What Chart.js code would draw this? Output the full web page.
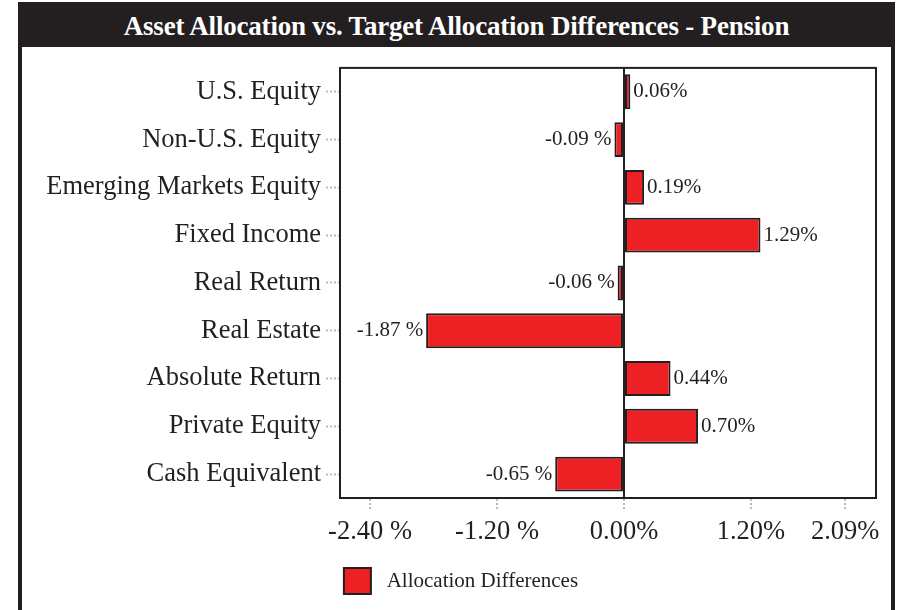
<!DOCTYPE html>
<html>
<head>
<meta charset="utf-8">
<script src="https://cdn.jsdelivr.net/npm/chart.js@4"></script>
<style>
  html, body { margin: 0; padding: 0; background: #fff; }
  #frame {
    position: absolute; left: 18px; top: 2px; width: 869px; height: 608px;
    border-left: 4px solid #231f20; border-right: 4px solid #231f20;
  }
  #title {
    height: 45px; line-height: 49px; background: #231f20; color: #fff;
    font-family: "Liberation Serif", serif; font-weight: bold; font-size: 27px;
    text-align: center; margin: 0 -4px; letter-spacing: -0.2px;
  }
  #wrap { width: 869px; height: 563px; position: relative; }
</style>
</head>
<body>
<div id="frame">
  <div id="title">Asset Allocation vs. Target Allocation Differences - Pension</div>
  <div id="wrap"><canvas id="myChart"></canvas></div>
</div>
<script>
const categories = ['U.S. Equity', 'Non-U.S. Equity', 'Emerging Markets Equity', 'Fixed Income',
  'Real Return', 'Real Estate', 'Absolute Return', 'Private Equity', 'Cash Equivalent'];
const differences = [0.06, -0.09, 0.19, 1.29, -0.06, -1.87, 0.44, 0.70, -0.65];
const tickValues = [-2.40, -1.20, 0.00, 1.20, 2.09];
const seriesName = 'Allocation Differences';

const dark = '#231f20';
const red = '#ed2024';
const serif = '"Liberation Serif", "Times New Roman", serif';

const fmt = v => v < 0 ? v.toFixed(2) + ' %' : v.toFixed(2) + '%';

// outline box round the plot + value labels next to each bar
const plotExtras = {
    id: 'plotExtras',
    afterDatasetsDraw(chart) {
        const { ctx, chartArea } = chart;
        ctx.save();
        ctx.strokeStyle = dark;
        ctx.lineWidth = 2;
        ctx.strokeRect(chartArea.left, chartArea.top, chartArea.right - chartArea.left, chartArea.bottom - chartArea.top);

        ctx.font = '21px ' + serif;
        ctx.fillStyle = dark;
        ctx.textBaseline = 'middle';
        chart.getDatasetMeta(0).data.forEach((bar, i) => {
            const v = differences[i];
            if (v < 0) {
                ctx.textAlign = 'right';
                ctx.fillText(fmt(v), bar.x - 3, bar.y);
            } else {
                ctx.textAlign = 'left';
                ctx.fillText(fmt(v), bar.x + 3, bar.y);
            }
        });
        ctx.restore();
    }
};

new Chart(document.getElementById('myChart'), {
    type: 'bar',
    data: {
        labels: categories,
        datasets: [{
            label: seriesName,
            data: differences,
            backgroundColor: red,
            borderColor: dark,
            borderWidth: 2,
            borderSkipped: false,
            barPercentage: 0.73,
            categoryPercentage: 1
        }]
    },
    options: {
        animation: false,
        responsive: true,
        maintainAspectRatio: false,
        indexAxis: 'y',
        layout: { padding: { top: 20, right: 15, left: 24, bottom: 6 } },
        plugins: {
            title: { display: false },
            tooltip: { enabled: false },
            legend: {
                position: 'bottom',
                labels: {
                    boxWidth: 27,
                    boxHeight: 26,
                    padding: 10,
                    color: dark,
                    font: { family: serif, size: 21 },
                    // a little more room between the box and its text
                    generateLabels: chart => Chart.defaults.plugins.legend.labels.generateLabels(chart)
                        .map(l => Object.assign(l, { text: ' ' + l.text }))
                }
            }
        },
        scales: {
            x: {
                min: -2.684,
                max: 2.382,
                afterBuildTicks: scale => { scale.ticks = tickValues.map(v => ({ value: v })); },
                afterFit: scale => { scale.height = 60; },
                border: { display: true, color: dark, width: 2 },
                grid: {
                    drawOnChartArea: true,
                    color: c => (c.tick && c.tick.value === 0) ? dark : 'rgba(0,0,0,0)',
                    lineWidth: 2,
                    tickColor: '#bbb',
                    tickWidth: 2,
                    tickLength: 12,
                    tickBorderDash: [2, 2]
                },
                ticks: {
                    padding: 6,
                    color: dark,
                    font: { family: serif, size: 26.5 },
                    maxRotation: 0,
                    callback: v => fmt(v)
                }
            },
            y: {
                afterFit: scale => { scale.width = 294; },
                border: { display: true, color: dark, width: 2 },
                grid: {
                    offset: false,
                    drawOnChartArea: false,
                    tickColor: '#bbb',
                    tickWidth: 2,
                    tickLength: 14,
                    tickBorderDash: [2, 2]
                },
                ticks: {
                    padding: 5,
                    color: dark,
                    font: { family: serif, size: 26.5 }
                }
            }
        }
    },
    plugins: [plotExtras]
});
</script>
</body>
</html>
